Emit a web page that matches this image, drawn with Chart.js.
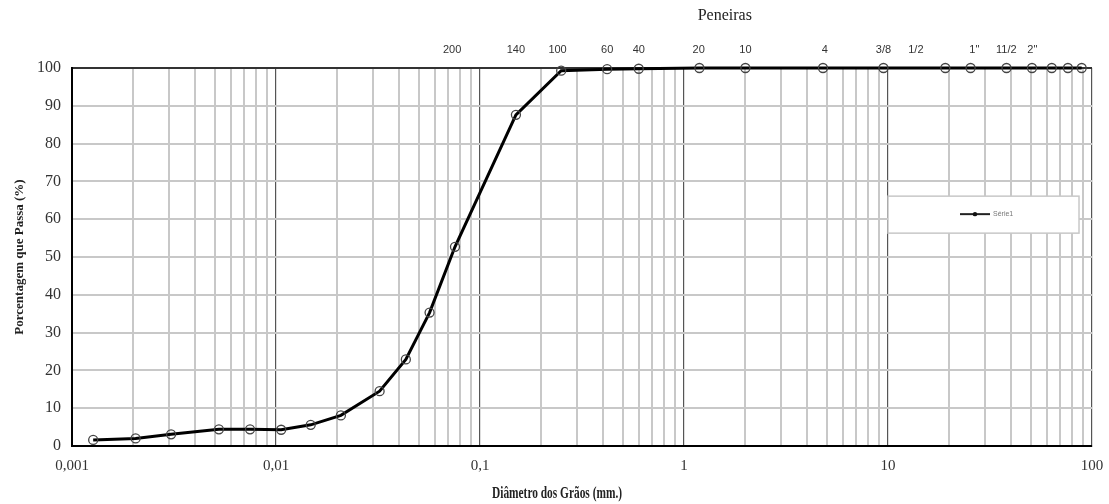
<!DOCTYPE html>
<html>
<head>
<meta charset="utf-8">
<script src="https://cdn.jsdelivr.net/npm/chart.js@4.4.0/dist/chart.umd.min.js"></script>
<style>
  body { margin: 0; background: #fff; }
</style>
</head>
<body>
<canvas id="myChart" width="1109" height="504"></canvas>
<script>
// curva granulometrica
const diametros = [0.00127, 0.00205, 0.00306, 0.00525, 0.00746, 0.0106, 0.0148, 0.0208, 0.0322, 0.0433, 0.0566,
  0.0754, 0.150, 0.250, 0.42, 0.60, 1.19, 2.0, 4.8, 9.5, 19.1, 25.4, 38.1, 50.8, 63.5, 76.2, 89.0];
const passantes = [1.6, 2.0, 3.1, 4.4, 4.4, 4.3, 5.6, 8.1, 14.5, 22.9, 35.3,
  52.7, 87.6, 99.3, 99.7, 99.8, 100, 100, 100, 100, 100, 100, 100, 100, 100, 100, 100];

// peneiras (eixo de cima)
const peneiraAberturas = [0.073, 0.15, 0.24, 0.42, 0.6, 1.18, 2.0, 4.9, 9.5, 13.7, 26.5, 38, 51];
const peneiraNomes = ["200", "140", "100", "60", "40", "20", "10", "4", "3/8", "1/2", "1\"", "11/2", "2\""];

const decadas = [0.001, 0.01, 0.1, 1, 10, 100];

const serif = "'Liberation Serif', 'Times New Roman', serif";
const sans = "'Liberation Sans', Arial, sans-serif";

function ticksLog() {
  const t = [];
  for (let d = 0; d < decadas.length - 1; d++) {
    for (let k = 1; k <= 9; k++) t.push({ value: +(decadas[d] * k).toPrecision(3) });
  }
  t.push({ value: 100 });
  return t;
}
const isDecada = v => decadas.some(d => Math.abs(v / d - 1) < 1e-6);

const textos = {
  id: "textos",
  afterDraw(chart) {
    const { ctx, chartArea: a } = chart;
    const w = a.right - a.left;
    ctx.save();
    ctx.fillStyle = "#222";
    ctx.textAlign = "center";
    ctx.textBaseline = "middle";
    ctx.font = "16px " + serif;
    ctx.fillText("Peneiras", a.left + w * 0.64, 16);

    // titulo eixo x (fonte estreita como no original)
    ctx.font = "bold 16px " + serif;
    const txt = "Diâmetro dos Grãos (mm.)";
    const sx = 130 / ctx.measureText(txt).width;
    ctx.translate(a.left + w * 0.4755, 494);
    ctx.scale(sx, 1);
    ctx.fillText(txt, 0, 0);
    ctx.restore();

    // legenda
    const lx = a.left + w * 0.8, ly = a.top + (a.bottom - a.top) * 0.339;
    ctx.save();
    ctx.fillStyle = "#fff";
    ctx.strokeStyle = "#c8c8c8";
    ctx.lineWidth = 1.5;
    ctx.fillRect(lx, ly, 191, 37);
    ctx.strokeRect(lx, ly, 191, 37);
    ctx.strokeStyle = "#222";
    ctx.lineWidth = 2;
    ctx.beginPath();
    ctx.moveTo(lx + 72, ly + 18);
    ctx.lineTo(lx + 102, ly + 18);
    ctx.stroke();
    ctx.fillStyle = "#111";
    ctx.beginPath();
    ctx.arc(lx + 87, ly + 18, 2.2, 0, Math.PI * 2);
    ctx.fill();
    ctx.fillStyle = "#777";
    ctx.font = "7px " + sans;
    ctx.textBaseline = "middle";
    ctx.fillText("Série1", lx + 105, ly + 18);
    ctx.restore();
  }
};

function semPadding(s, h) {
  s.height = h;
  s.paddingLeft = 0;
  s.paddingRight = 0;
}

new Chart(document.getElementById("myChart"), {
  type: "line",
  data: {
    datasets: [{
      label: "Série1",
      data: diametros.map((d, i) => ({ x: d, y: passantes[i] })),
      borderColor: "#000",
      borderWidth: 3,
      pointRadius: 4.5,
      pointBorderColor: "#444",
      pointBorderWidth: 1.3,
      pointBackgroundColor: "rgba(0,0,0,0)",
      tension: 0,
      clip: false,
      xAxisID: "x",
      yAxisID: "y"
    }]
  },
  options: {
    responsive: false,
    animation: false,
    layout: { padding: { left: 0, right: 17, top: 0, bottom: 0 } },
    plugins: {
      legend: { display: false },
      tooltip: { enabled: false }
    },
    scales: {
      x: {
        type: "logarithmic",
        position: "bottom",
        min: 0.001,
        max: 100,
        afterBuildTicks: s => { s.ticks = ticksLog(); },
        afterFit: s => semPadding(s, 58),
        ticks: {
          autoSkip: false,
          maxRotation: 0,
          padding: 11,
          color: "#333",
          font: { family: serif, size: 15 },
          callback: v => isDecada(v) ? String(v).replace(".", ",") : ""
        },
        grid: {
          drawTicks: false,
          color: c => isDecada(c.tick.value) ? "#555" : "#c8c8c8",
          lineWidth: c => isDecada(c.tick.value) ? 1.2 : 2
        },
        border: { color: "#000", width: 2 }
      },
      x2: {
        type: "logarithmic",
        position: "top",
        min: 0.001,
        max: 100,
        afterBuildTicks: s => { s.ticks = peneiraAberturas.map(v => ({ value: v })); },
        afterFit: s => semPadding(s, 68),
        ticks: {
          autoSkip: false,
          maxRotation: 0,
          padding: 11,
          color: "#333",
          font: { family: sans, size: 11 },
          callback: (v, i) => peneiraNomes[i]
        },
        grid: { display: false, drawTicks: false },
        border: { display: false }
      },
      y: {
        min: 0,
        max: 100,
        afterFit: s => { s.width = 72; },
        ticks: {
          stepSize: 10,
          padding: 11,
          color: "#333",
          font: { family: serif, size: 16 }
        },
        grid: {
          drawTicks: false,
          color: c => c.tick.value === 100 ? "#333" : "#c8c8c8",
          lineWidth: 2
        },
        border: { color: "#000", width: 2 },
        title: {
          display: true,
          text: "Porcentagem que Passa (%)",
          color: "#222",
          font: { family: serif, size: 13, weight: "bold" },
          padding: { top: 12, bottom: 0 }
        }
      }
    }
  },
  plugins: [textos]
});
</script>
</body>
</html>
